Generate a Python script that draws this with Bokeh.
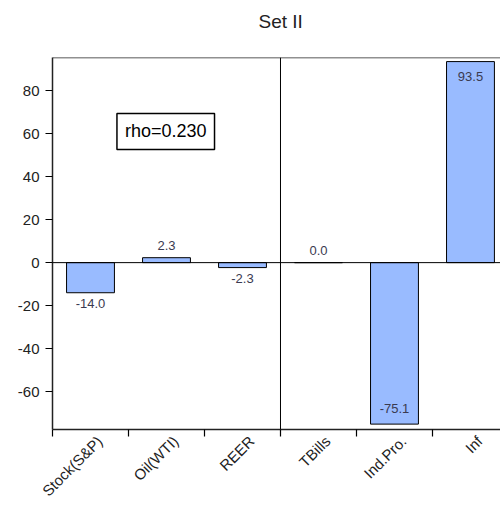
from bokeh.plotting import figure
from bokeh.models import (ColumnDataSource, FixedTicker, Span, Label, Range1d)
from bokeh.core.properties import value
from bokeh.embed import file_html
from bokeh.resources import INLINE

# ---- data ----
categories = ["Stock(S&P)", "Oil(WTI)", "REER", "TBills", "Ind.Pro.", "Inf"]
values = [-14.0, 2.3, -2.3, 0.0, -75.1, 93.5]
y_ticks = [-60, -40, -20, 0, 20, 40, 60, 80]
rho_text = "rho=0.230"
title_text = "Set II"

FONT = "Liberation Sans"

xs = [i + 0.5 for i in range(len(categories))]
labels = [f"{v:.1f}" for v in values]
offsets = []
for v in values:
    if abs(v) > 50:
        offsets.append(15 if v > 0 else -16)
    else:
        offsets.append(-12 if v >= 0 else 11)

Y0, Y1 = -77.6, 95.4
src = ColumnDataSource(dict(x=xs, top=values, label=labels, yoff=offsets))

p = figure(width=500, height=508, output_backend="svg", toolbar_location=None,
           x_range=Range1d(0, 5.895), y_range=Range1d(Y0, Y1),
           min_border_left=52, min_border_right=0, min_border_top=57,
           min_border_bottom=78, title=title_text + "\n")

p.title.text_font = FONT
p.title.text_font_size = "19px"
p.title.text_font_style = "normal"
p.title.text_color = "#222222"
p.title.align = "left"
p.title.offset = 206
p.title.standoff = 10

p.grid.visible = False
p.outline_line_color = None
p.background_fill_color = "white"
p.border_fill_color = "white"

# frame top line
p.add_layout(Span(location=Y1, dimension="width", line_color="#222222", line_width=1.5))

# bars
p.vbar(x="x", top="top", bottom=0, width=0.63, source=src,
       fill_color="#99bbff", line_color="black", line_width=1)

# zero line and divider
p.add_layout(Span(location=0, dimension="width", line_color="black", line_width=1))
p.add_layout(Span(location=3, dimension="height", line_color="black", line_width=1))

# value labels
p.text(x="x", y="top", text="label", source=src, y_offset="yoff",
       text_align="center", text_baseline="middle",
       text_font=value(FONT), text_font_size="13px", text_color="#3a3a50")

# rho box
p.add_layout(Label(x=1.49, y=61, text=rho_text, text_align="center",
                   text_baseline="middle", text_font=FONT, text_font_size="18px",
                   text_color="black", border_line_color="black",
                   border_line_width=1.5, background_fill_color="white",
                   padding=8))

# y axis
ya = p.yaxis[0]
ya.ticker = FixedTicker(ticks=y_ticks)
ya.major_label_overrides = {t: str(t) for t in y_ticks}
ya.major_tick_in = 0
ya.major_tick_out = 7
ya.minor_tick_out = 0
ya.minor_tick_in = 0
ya.axis_line_width = 1.5
ya.axis_line_color = "#222222"
ya.major_tick_line_width = 1.2
ya.major_label_text_font = FONT
ya.major_label_text_font_size = "15px"
ya.major_label_text_color = "#222222"
ya.major_label_standoff = 6

# x axis: labels near category centres, ticks at boundaries
label_pos = [x + 0.12 for x in xs]
xa = p.xaxis[0]
xa.ticker = FixedTicker(ticks=label_pos, minor_ticks=list(range(len(categories) + 1)))
xa.major_label_overrides = {x: c for x, c in zip(label_pos, categories)}
xa.major_tick_in = 0
xa.major_tick_out = 0
xa.minor_tick_in = 0
xa.minor_tick_out = 7
xa.minor_tick_line_width = 1.2
xa.axis_line_width = 1.5
xa.axis_line_color = "#222222"
xa.major_label_orientation = 0.785398
xa.major_label_text_font = FONT
xa.major_label_text_font_size = "15px"
xa.major_label_text_color = "#222222"
xa.major_label_standoff = 2

open("out.html", "w").write(file_html(p, INLINE))
